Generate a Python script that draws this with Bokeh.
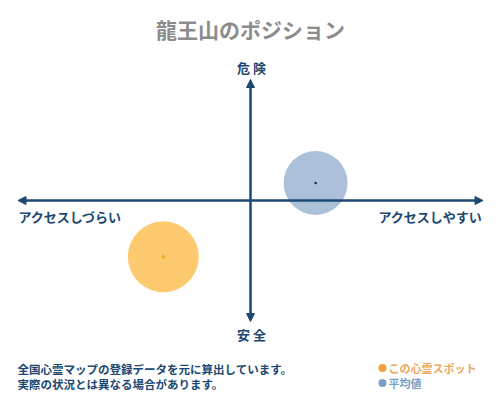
from bokeh.plotting import figure
from bokeh.models import Range1d, Arrow, NormalHead, Label
from bokeh.embed import file_html
from bokeh.resources import INLINE

# ---- data ----
title_text = "龍王山のポジション"
y_axis_labels = ["危 険", "安 全"]          # top, bottom
x_axis_labels = ["アクセスしづらい", "アクセスしやすい"]  # left, right
series_names = ["この心霊スポット", "平均値"]
spot_x = [-3.75]
spot_y = [-4.65]
avg_x = [2.8]
avg_y = [1.45]
notes = ["全国心霊マップの登録データを元に算出しています。",
         "実際の状況とは異なる場合があります。"]

# ---- styles ----
FONT = "Noto Sans CJK JP"
NAVY = "#1d4872"
ORANGE_FILL = "#fdca70"
ORANGE_DOT = "#f2a024"
BLUE_FILL = "#acc1d9"
ORANGE_TEXT = "#eba75a"
BLUE_TEXT = "#76a0c4"

W, H = 492, 392
SX, SY = 23.25, 12.1   # pixels per unit
CX, CY = 250, 200      # reference-pixel centre of the axes

def px(sx):
    return (sx - CX) / SX

def py(sy):
    return (CY - sy) / SY

p = figure(width=W, height=H, output_backend="svg", toolbar_location=None,
           x_range=Range1d(px(0), px(W)), y_range=Range1d(py(H), py(0)),
           x_axis_location=None, y_axis_location=None, min_border=0,
           outline_line_color=None, background_fill_color="white")
p.grid.visible = False

# circles
p.scatter(x=avg_x, y=avg_y, size=64, fill_color=BLUE_FILL, line_color=None)
p.scatter(x=spot_x, y=spot_y, size=71, fill_color=ORANGE_FILL, line_color=None)
p.scatter(x=avg_x, y=avg_y, size=2.5, fill_color="#1a2a3a", line_color=None)
p.scatter(x=spot_x, y=spot_y, size=5, marker="diamond", fill_color=ORANGE_DOT, line_color=None)

# axes arrows
def head():
    return NormalHead(size=8, fill_color=NAVY, line_color=NAVY, line_width=1)

p.add_layout(Arrow(start=head(), end=head(), x_start=-10, y_start=0, x_end=10, y_end=0,
                   line_color=NAVY, line_width=2.5))
p.add_layout(Arrow(start=head(), end=head(), x_start=0, y_start=-10, x_end=0, y_end=10,
                   line_color=NAVY, line_width=2.5))

def lab(text, sx, sy, size, color, align="left"):
    p.add_layout(Label(x=px(sx), y=py(sy), text=text, text_font=FONT,
                       text_font_size=f"{size}px", text_font_style="bold",
                       text_color=color, text_align=align, text_baseline="middle"))

lab(title_text, 250, 28, 21, "#8c8c8c", "center")
lab(y_axis_labels[0], 251, 67, 13, NAVY, "center")
lab(y_axis_labels[1], 251, 334, 13, NAVY, "center")
lab(x_axis_labels[0], 18, 216, 13, NAVY, "left")
lab(x_axis_labels[1], 482, 216, 13, NAVY, "right")
lab(notes[0], 17, 368, 11.5, NAVY, "left")
lab(notes[1], 17, 383, 11.5, NAVY, "left")

# legend
p.scatter(x=[px(382)], y=[py(367.5)], size=8, fill_color="#f0a040", line_color=None)
p.scatter(x=[px(382)], y=[py(382.5)], size=8, fill_color="#76a0c4", line_color=None)
lab(series_names[0], 388, 367.5, 11, ORANGE_TEXT, "left")
lab(series_names[1], 388, 382.5, 11, BLUE_TEXT, "left")

open("out.html", "w").write(file_html(p, INLINE))
